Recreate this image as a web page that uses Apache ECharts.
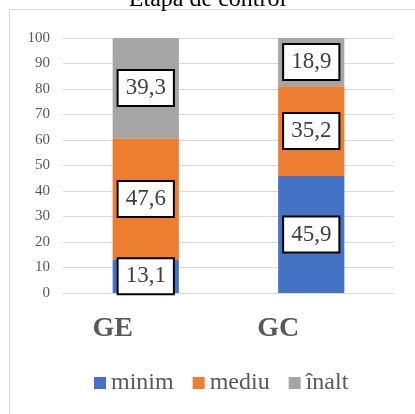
<!DOCTYPE html>
<html>
<head>
<meta charset="utf-8">
<title>Etapa de control</title>
<script src="https://cdn.jsdelivr.net/npm/echarts@6/dist/echarts.min.js"></script>
<style>
  html, body { margin: 0; padding: 0; background: #fff; }
  #chart { width: 415px; height: 414px; }
</style>
</head>
<body>
<div id="chart"></div>
<script>
// date
var categories = ['GE', 'GC'];
var seriesNames = ['minim', 'mediu', 'înalt'];
var minim = [13.1, 45.9];
var mediu = [47.6, 35.2];
var inalt = [39.3, 18.9];
var yTicks = { min: 0, max: 100, step: 10 };

var serif = "Liberation Serif, serif";

var chart = echarts.init(document.getElementById('chart'));

var boxLabel = {
  show: true,
  position: 'inside',
  formatter: function (p) { return String(p.value).replace('.', ','); },
  fontFamily: serif,
  fontSize: 23,
  color: '#404040',
  backgroundColor: '#fff',
  borderColor: '#000',
  borderWidth: 2,
  padding: [6, 7, 5, 7]
};

function seria(name, data, color) {
  return {
    name: name,
    type: 'bar',
    stack: 'total',
    barWidth: '40%',
    data: data,
    itemStyle: { color: color },
    label: boxLabel
  };
}

chart.setOption({
  animation: false,
  textStyle: { fontFamily: serif },
  title: {
    text: 'Etapa de control',
    left: 'center',
    top: -17,
    textStyle: { fontFamily: serif, fontSize: 24, fontWeight: 'normal', color: '#000' }
  },
  graphic: [{
    type: 'rect',
    shape: { x: 9.5, y: 9.5, width: 420, height: 420 },
    style: { fill: 'none', stroke: '#D9D9D9', lineWidth: 1 }
  }],
  legend: {
    top: 366,
    left: 89,
    itemWidth: 12,
    itemHeight: 12,
    itemGap: 19,
    icon: 'rect',
    textStyle: { fontFamily: serif, fontSize: 24, color: '#595959' }
  },
  grid: { left: 63, right: 21, top: 38, bottom: 121 },
  xAxis: {
    type: 'category',
    data: categories,
    axisLine: { lineStyle: { color: '#D9D9D9' } },
    axisTick: { show: false },
    axisLabel: {
      margin: 22,
      fontFamily: serif,
      fontSize: 28,
      fontWeight: 'bold',
      color: '#595959',
      padding: [0, 66, 0, 0]
    }
  },
  yAxis: {
    type: 'value',
    min: yTicks.min,
    max: yTicks.max,
    interval: yTicks.step,
    axisLine: { show: false },
    axisTick: { show: false },
    splitLine: { lineStyle: { color: '#D9D9D9' } },
    axisLabel: { margin: 13, fontFamily: serif, fontSize: 15, color: '#595959' }
  },
  series: [
    seria(seriesNames[0], minim, '#4472C4'),
    seria(seriesNames[1], mediu, '#ED7D31'),
    seria(seriesNames[2], inalt, '#A5A5A5')
  ]
});

window.onresize = chart.resize;
</script>
</body>
</html>
